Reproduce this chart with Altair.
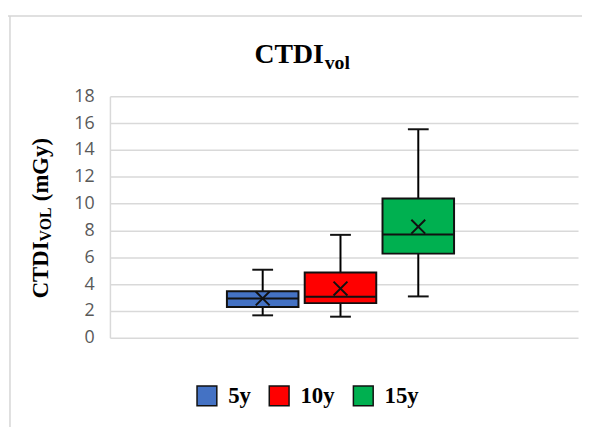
import altair as alt
import pandas as pd

# ---- data ----
groups = ["5y", "10y", "15y"]
mins = [1.67, 1.57, 3.08]
q1s = [2.29, 2.58, 6.27]
medians = [2.93, 3.05, 7.69]
q3s = [3.47, 4.87, 10.38]
maxs = [5.07, 7.67, 15.54]
means = [2.93, 3.67, 8.28]
colors = ["#4472C4", "#FF0000", "#00B050"]
y_ticks = [0, 2, 4, 6, 8, 10, 12, 14, 16, 18]

title_main = "CTDI"
title_sub = "vol"
ytitle_main = "CTDI"
ytitle_sub = "VOL"
ytitle_unit = "(mGy)"

df = pd.DataFrame({
    "group": groups, "pos": list(range(len(groups))), "min": mins,
    "q1": q1s, "median": medians, "q3": q3s, "max": maxs, "mean": means,
})

SERIF = "Liberation Serif"

xscale = alt.Scale(domain=[-1.90, 3.99], nice=False, zero=False)
x = alt.X("pos:Q", scale=xscale, axis=None)
yscale = alt.Scale(domain=[0, 18], nice=False)
yaxis = alt.Axis(values=y_ticks, title=None, labelFont="Open Sans",
                 labelFontSize=18, labelColor="#595959", labelPadding=16,
                 labelOverlap=False, ticks=False, domainColor="#d9d9d9",
                 domainWidth=1.5, gridColor="#d9d9d9", gridWidth=1.5,
                 grid=True)


def Y(field):
    return alt.Y(field, scale=yscale, axis=yaxis)


base = alt.Chart(df)

whiskers = base.mark_rule(color="black", strokeWidth=2).encode(
    x=x, y=Y("min:Q"), y2="max:Q")

box = base.mark_bar(width=72.3, stroke="#111111", strokeWidth=2,
                    opacity=1).encode(
    x=x, y=Y("q1:Q"), y2="q3:Q",
    color=alt.Color("group:N", sort=groups,
                    scale=alt.Scale(domain=groups, range=colors),
                    legend=alt.Legend(
                        title=None, orient="none", legendX=86.5, legendY=291,
                        direction="horizontal", symbolType="square",
                        symbolSize=400, symbolStrokeColor="#111111",
                        symbolStrokeWidth=1.5, symbolOpacity=1,
                        labelFont=SERIF, labelFontSize=23,
                        labelFontWeight="bold", labelColor="black",
                        labelOffset=10, columnPadding=15, padding=0)))

median_tick = base.mark_tick(orient="horizontal", color="#111111",
                             thickness=2, size=72.3, opacity=1).encode(
    x=x, y=Y("median:Q"))
cap_lo = base.mark_tick(orient="horizontal", color="#111111", thickness=2,
                        size=21, opacity=1).encode(x=x, y=Y("min:Q"))
cap_hi = base.mark_tick(orient="horizontal", color="#111111", thickness=2,
                        size=21, opacity=1).encode(x=x, y=Y("max:Q"))
mean_x = base.mark_point(shape="M-1,-1L1,1M-1,1L1,-1", size=196,
                         color="#111111", strokeWidth=2, filled=False,
                         opacity=1).encode(x=x, y=Y("mean:Q"))


# ---- titles (text with subscripts) ----
def txt(s, **kw):
    return alt.Chart(pd.DataFrame({"t": [s]})).mark_text(**kw).encode(
        text="t:N")


t1 = txt(title_main, font=SERIF, fontSize=28, fontWeight="bold",
         align="right", baseline="alphabetic", color="black").encode(
    x=alt.value(216), y=alt.value(-33.5))
t2 = txt(title_sub, font=SERIF, fontSize=20, fontWeight="bold",
         align="left", baseline="alphabetic", color="black").encode(
    x=alt.value(217), y=alt.value(-28))

yt1 = txt(ytitle_main, font=SERIF, fontSize=23, fontWeight="bold",
          align="right", baseline="alphabetic", angle=270,
          color="black").encode(x=alt.value(-63), y=alt.value(146.7))
yt2 = txt(ytitle_sub, font=SERIF, fontSize=16, fontWeight="bold",
          align="left", baseline="alphabetic", angle=270,
          color="black").encode(x=alt.value(-60), y=alt.value(146.7))
yt3 = txt(ytitle_unit, font=SERIF, fontSize=23, fontWeight="bold",
          align="left", baseline="alphabetic", angle=270,
          color="black").encode(x=alt.value(-63), y=alt.value(106))

# ---- chart frame (light grey border of the original figure) ----
frame_top = alt.Chart(pd.DataFrame({"a": [0]})).mark_rule(
    color="#d6d6d6", strokeWidth=1.5).encode(
    x=alt.value(-103), x2=alt.value(490), y=alt.value(-81))
frame_left = alt.Chart(pd.DataFrame({"a": [0]})).mark_rule(
    color="#d6d6d6", strokeWidth=1.5).encode(
    x=alt.value(-101), y=alt.value(-81), y2=alt.value(340))

chart = alt.layer(
    frame_top, frame_left, whiskers, box, median_tick, cap_lo, cap_hi,
    mean_x, t1, t2, yt1, yt2, yt3
).properties(
    width=473, height=244,
    padding={"left": 103, "top": 87, "right": 4, "bottom": 88},
    autosize=alt.AutoSizeParams(type="none"),
).configure_view(stroke=None)

chart.save("out.html", embed_options={"renderer": "svg", "actions": False})
